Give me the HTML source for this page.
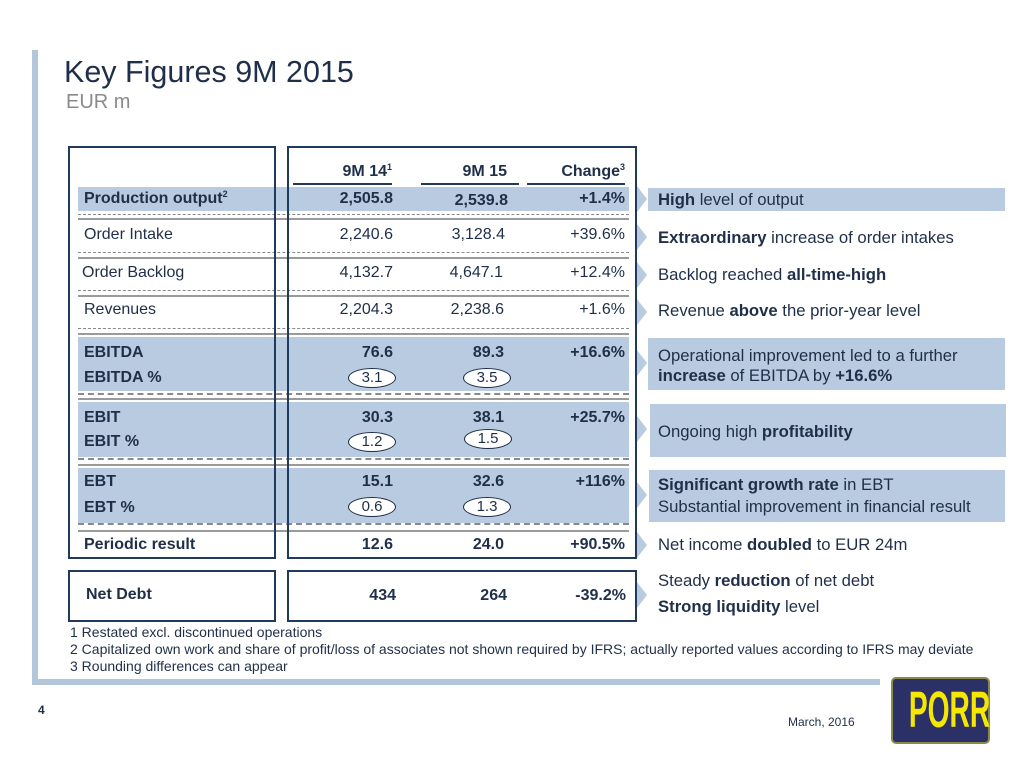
<!DOCTYPE html>
<html><head><meta charset="utf-8"><style>
body{margin:0;width:1024px;height:768px;background:#fff;position:relative;overflow:hidden;font-family:"Liberation Sans",Arial,sans-serif;color:#1f2f4a}
div{position:absolute}
.t{font-size:16px;line-height:18px;white-space:nowrap}
.b{font-weight:bold}
.r{text-align:right}
.band{background:#b9cbe0}
.dash{height:0;border-top:1px dashed #8a8a8a}
.sol{height:0;border-top:2px solid #9a9a9a}
.ov{border:1.5px solid #1f2f4a;border-radius:50%;width:46px;height:18px;text-align:center;font-size:15px;line-height:18px;background:#fff}
.arr{width:0;height:0;border-top:13px solid transparent;border-bottom:13px solid transparent;border-left:10px solid #b9cbe0}
sup{font-size:9px;vertical-align:6px;line-height:0}
.rt{font-size:16.7px;line-height:20px;white-space:nowrap;left:658px}
</style></head><body>
<div style="left:32px;top:50px;width:6px;height:635px;background:#b4c6da"></div>
<div style="left:32px;top:679px;width:848px;height:6px;background:#b4c6da"></div>
<div style="left:64px;top:55px;font-size:30.5px;line-height:34px">Key Figures 9M 2015</div>
<div style="left:66px;top:91px;font-size:20px;line-height:22px;color:#8a8a8a">EUR m</div>

<div class="band" style="left:78px;top:187px;width:551px;height:24px"></div>
<div class="band" style="left:78px;top:337px;width:551px;height:54px"></div>
<div class="band" style="left:78px;top:402px;width:551px;height:55px"></div>
<div class="band" style="left:78px;top:468px;width:551px;height:55px"></div>

<div class="dash" style="left:78px;top:214px;width:551px"></div><div class="sol" style="left:78px;top:218px;width:551px"></div>
<div class="dash" style="left:78px;top:252px;width:551px"></div><div class="sol" style="left:78px;top:257px;width:551px"></div>
<div class="dash" style="left:78px;top:290px;width:551px"></div><div class="sol" style="left:78px;top:295px;width:551px"></div>
<div class="dash" style="left:78px;top:328px;width:551px"></div><div class="sol" style="left:78px;top:333px;width:551px"></div>
<div class="dash" style="left:78px;top:393px;width:551px;border-top-width:2px"></div><div class="sol" style="left:78px;top:398px;width:551px"></div>
<div class="dash" style="left:78px;top:458px;width:551px;border-top-width:2px"></div><div class="sol" style="left:78px;top:464px;width:551px"></div>
<div class="dash" style="left:78px;top:523px;width:551px;border-top-width:2px"></div><div class="sol" style="left:78px;top:530px;width:551px"></div>

<div style="left:68px;top:146px;width:204px;height:409px;border:2px solid #1f3a5a"></div>
<div style="left:287px;top:146px;width:346px;height:409px;border:2px solid #1f3a5a"></div>
<div style="left:68px;top:570px;width:204px;height:48px;border:2px solid #1f3a5a"></div>
<div style="left:287px;top:570px;width:346px;height:48px;border:2px solid #1f3a5a"></div>

<div class="t b r" style="left:293px;top:163px;width:99px">9M 14<sup>1</sup></div>
<div class="t b r" style="left:421px;top:163px;width:86px">9M 15</div>
<div class="t b r" style="left:527px;top:163px;width:98px">Change<sup>3</sup></div>
<div style="left:293px;top:183px;width:99px;height:2px;background:#1f3a5a"></div>
<div style="left:421px;top:183px;width:98px;height:2px;background:#1f3a5a"></div>
<div style="left:527px;top:183px;width:98px;height:2px;background:#1f3a5a"></div>

<div class="t b" style="left:84px;top:190px">Production output<sup>2</sup></div>
<div class="t b r" style="left:293px;top:190px;width:100px">2,505.8</div>
<div class="t b r" style="left:400px;top:192px;width:108px">2,539.8</div>
<div class="t b r" style="left:527px;top:190px;width:98px">+1.4%</div>

<div class="t" style="left:84px;top:226px">Order Intake</div>
<div class="t r" style="left:293px;top:226px;width:100px">2,240.6</div>
<div class="t r" style="left:400px;top:226px;width:105px">3,128.4</div>
<div class="t r" style="left:527px;top:226px;width:98px">+39.6%</div>

<div class="t" style="left:82px;top:264px">Order Backlog</div>
<div class="t r" style="left:293px;top:264px;width:100px">4,132.7</div>
<div class="t r" style="left:400px;top:264px;width:103px">4,647.1</div>
<div class="t r" style="left:527px;top:264px;width:98px">+12.4%</div>

<div class="t" style="left:84px;top:301px">Revenues</div>
<div class="t r" style="left:293px;top:301px;width:100px">2,204.3</div>
<div class="t r" style="left:400px;top:301px;width:104px">2,238.6</div>
<div class="t r" style="left:527px;top:301px;width:98px">+1.6%</div>

<div class="t b" style="left:84px;top:344px">EBITDA</div>
<div class="t b r" style="left:293px;top:344px;width:100px">76.6</div>
<div class="t b r" style="left:400px;top:344px;width:104px">89.3</div>
<div class="t b r" style="left:527px;top:344px;width:98px">+16.6%</div>
<div class="t b" style="left:84px;top:369px">EBITDA %</div>
<div class="ov" style="left:348px;top:368px">3.1</div>
<div class="ov" style="left:463px;top:368px">3.5</div>

<div class="t b" style="left:84px;top:409px">EBIT</div>
<div class="t b r" style="left:293px;top:409px;width:100px">30.3</div>
<div class="t b r" style="left:400px;top:409px;width:104px">38.1</div>
<div class="t b r" style="left:527px;top:409px;width:98px">+25.7%</div>
<div class="t b" style="left:84px;top:433px">EBIT %</div>
<div class="ov" style="left:348px;top:432px">1.2</div>
<div class="ov" style="left:464px;top:429px">1.5</div>

<div class="t b" style="left:84px;top:473px">EBT</div>
<div class="t b r" style="left:293px;top:473px;width:100px">15.1</div>
<div class="t b r" style="left:400px;top:473px;width:104px">32.6</div>
<div class="t b r" style="left:527px;top:473px;width:98px">+116%</div>
<div class="t b" style="left:84px;top:499px">EBT %</div>
<div class="ov" style="left:348px;top:497px">0.6</div>
<div class="ov" style="left:463px;top:497px">1.3</div>

<div class="t b" style="left:84px;top:536px">Periodic result</div>
<div class="t b r" style="left:293px;top:536px;width:100px">12.6</div>
<div class="t b r" style="left:400px;top:536px;width:104px">24.0</div>
<div class="t b r" style="left:527px;top:536px;width:98px">+90.5%</div>

<div class="t b" style="left:86px;top:586px">Net Debt</div>
<div class="t b r" style="left:293px;top:587px;width:103px">434</div>
<div class="t b r" style="left:400px;top:587px;width:107px">264</div>
<div class="t b r" style="left:527px;top:587px;width:99px">-39.2%</div>

<div class="arr" style="left:637px;top:186px"></div>
<div class="arr" style="left:637px;top:224px"></div>
<div class="arr" style="left:637px;top:262px"></div>
<div class="arr" style="left:637px;top:299px"></div>
<div class="arr" style="left:637px;top:350px"></div>
<div class="arr" style="left:637px;top:416px"></div>
<div class="arr" style="left:637px;top:482px"></div>
<div class="arr" style="left:637px;top:532px"></div>
<div class="arr" style="left:637px;top:582px"></div>

<div class="band" style="left:648px;top:188px;width:357px;height:23px"></div>
<div class="band" style="left:648px;top:338px;width:357px;height:52px"></div>
<div class="band" style="left:650px;top:404px;width:356px;height:53px"></div>
<div class="band" style="left:649px;top:470px;width:356px;height:52px"></div>

<div class="rt" style="top:190px"><b>High</b> level of output</div>
<div class="rt" style="top:228px"><b>Extraordinary</b> increase of order intakes</div>
<div class="rt" style="top:265px">Backlog reached <b>all-time-high</b></div>
<div class="rt" style="top:301px">Revenue <b>above</b> the prior-year level</div>
<div class="rt" style="top:346px">Operational improvement led to a further</div>
<div class="rt" style="top:366px"><b>increase</b> of EBITDA by <b>+16.6%</b></div>
<div class="rt" style="top:422px">Ongoing high <b>profitability</b></div>
<div class="rt" style="top:475px"><b>Significant growth rate</b> in EBT</div>
<div class="rt" style="top:497px">Substantial improvement in financial result</div>
<div class="rt" style="top:535px">Net income <b>doubled</b> to EUR 24m</div>
<div class="rt" style="top:571px">Steady <b>reduction</b> of net debt</div>
<div class="rt" style="top:597px"><b>Strong liquidity</b> level</div>

<div style="left:70px;top:624px;font-size:14px;line-height:17px;white-space:nowrap">1 Restated excl. discontinued operations<br>2 Capitalized own work and share of profit/loss of associates not shown required by IFRS; actually reported values according to IFRS may deviate<br>3 Rounding differences can appear</div>

<div style="left:38px;top:703px;font-size:12px;font-weight:bold">4</div>
<div style="left:788px;top:715px;font-size:12px">March, 2016</div>

<div style="left:891px;top:677px;width:95px;height:63px;background:#2b3066;border:2px solid #8a8a4a;border-radius:5px"></div>
<div style="left:891px;top:678px;width:99px;height:65px;text-align:center;font-weight:bold;font-size:44px;line-height:65px;color:#f4e800;transform:scale(0.64,1.15)">PORR</div>
</body></html>
